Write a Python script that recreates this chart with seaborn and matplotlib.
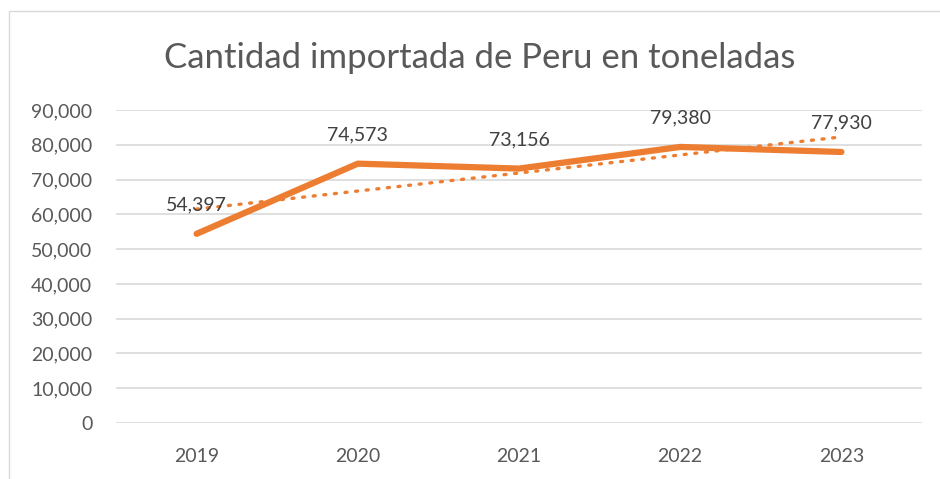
import numpy as np
import pandas as pd
import matplotlib
matplotlib.use("Agg")
import matplotlib.pyplot as plt
import seaborn as sns
from matplotlib.patches import Rectangle
from matplotlib.ticker import FuncFormatter

# Data
years = ['2019', '2020', '2021', '2022', '2023']
toneladas = [54397, 74573, 73156, 79380, 77930]
y_ticks = [0, 10000, 20000, 30000, 40000, 50000, 60000, 70000, 80000, 90000]

df = pd.DataFrame({'year': years, 'pos': np.arange(len(years)), 'toneladas': toneladas})

sns.set_theme(style="white")
plt.rcParams['font.family'] = ['Lato', 'DejaVu Sans']

orange = '#ED7D31'
grid_col = '#D9D9D9'
text_col = '#595959'

fig = plt.figure(figsize=(9.4, 4.79), dpi=100)
ax = fig.add_axes([116 / 940, 1 - 423 / 479, (922 - 116) / 940, (423 - 110) / 479])

# outer chart border (cropped on right/bottom in the reference)
fig.patches.append(Rectangle((9 / 940, -0.05), 1.2, 1 - 11 / 479 + 0.05,
                             transform=fig.transFigure, fill=False,
                             edgecolor=grid_col, linewidth=1.0))

for t in y_ticks:
    ax.axhline(t, color=grid_col, linewidth=1.2, zorder=0)

sns.lineplot(data=df, x='pos', y='toneladas', ax=ax, color=orange,
             linewidth=4.5, solid_capstyle='round', zorder=3)

# linear trendline (dotted), as in the Excel chart
sns.regplot(data=df, x='pos', y='toneladas', ax=ax, scatter=False, ci=None,
            truncate=True, color=orange,
            line_kws={'linestyle': (0, (0.6, 2.6)), 'linewidth': 2.4,
                      'dash_capstyle': 'round', 'zorder': 4})

for x, v in zip(df['pos'], df['toneladas']):
    ax.annotate(f'{v:,}', (x, v), xytext=(0, 21), textcoords='offset points',
                ha='center', va='center', fontsize=14, color='#404040', zorder=5)

ax.set_xlim(-0.5, len(years) - 0.5)
ax.set_ylim(0, 90000)
ax.set_xticks(df['pos'])
ax.set_xticklabels(years)
ax.set_yticks(y_ticks)
ax.yaxis.set_major_formatter(FuncFormatter(lambda v, p: f'{int(v):,}'))
ax.tick_params(axis='both', length=0, labelsize=14, labelcolor=text_col)
ax.tick_params(axis='y', pad=17)
ax.tick_params(axis='x', pad=18)
ax.set_xlabel('')
ax.set_ylabel('')
for s in ax.spines.values():
    s.set_visible(False)

fig.text(480 / 940, 1 - 58 / 479, 'Cantidad importada de Peru en toneladas',
         ha='center', va='center', fontsize=25, color=text_col)

fig.savefig('out.png', dpi=100)
